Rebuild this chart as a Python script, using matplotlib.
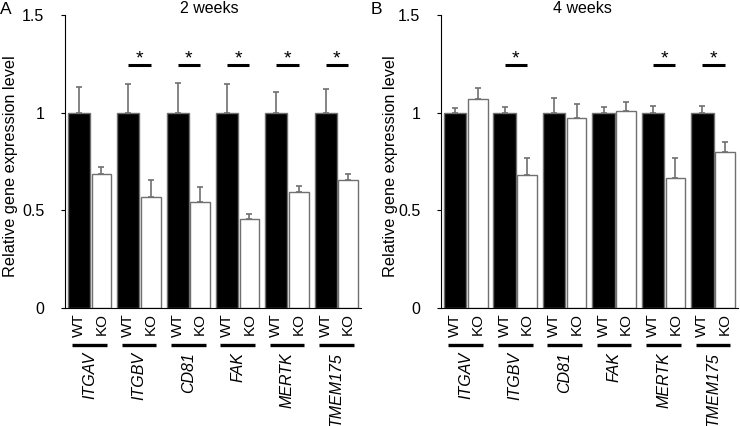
import numpy as np
import matplotlib
matplotlib.use('Agg')
import matplotlib.pyplot as plt

genes = ['ITGAV', 'ITGBV', 'CD81', 'FAK', 'MERTK', 'TMEM175']

# 2 weeks
wt_2w = [1, 1, 1, 1, 1, 1]
wt_2w_err = [0.133, 0.145, 0.15, 0.145, 0.107, 0.119]
ko_2w = [0.686, 0.567, 0.544, 0.454, 0.595, 0.657]
ko_2w_err = [0.037, 0.088, 0.077, 0.027, 0.031, 0.029]
sig_2w = [False, True, True, True, True, True]

# 4 weeks
wt_4w = [1, 1, 1, 1, 1, 1]
wt_4w_err = [0.022, 0.027, 0.076, 0.027, 0.032, 0.032]
ko_4w = [1.068, 0.681, 0.971, 1.01, 0.667, 0.797]
ko_4w_err = [0.059, 0.088, 0.073, 0.046, 0.102, 0.054]
sig_4w = [False, True, False, False, True, True]

plt.rcParams['font.family'] = ['Liberation Sans', 'DejaVu Sans']

fig = plt.figure(figsize=(7.4, 4.26), dpi=100)
axA = fig.add_axes([0.0878, 0.277, 0.4, 0.688])
axB = fig.add_axes([0.596, 0.277, 0.401, 0.688])


def draw_panel(ax, wt, wt_err, ko, ko_err, sig, title, title_x, label_x):
    x = np.arange(len(genes))
    x_wt = x + 0.285
    x_ko = x + 0.74
    edge = '#707070'
    ax.bar(x_wt, wt, width=0.45, color='black', edgecolor=edge, linewidth=1)
    ax.bar(x_ko, ko, width=0.40, color='white', edgecolor=edge, linewidth=1)
    ax.errorbar(x_wt, wt, yerr=[np.zeros(len(wt)), wt_err], fmt='none',
                ecolor=edge, elinewidth=1.2, capsize=2, capthick=1.2)
    ax.errorbar(x_ko, ko, yerr=[np.zeros(len(ko)), ko_err], fmt='none',
                ecolor=edge, elinewidth=1.2, capsize=2, capthick=1.2)

    for i in range(len(genes)):
        if sig[i]:
            ax.plot([x_wt[i], x_ko[i]], [1.244, 1.244], color='black', lw=2.2,
                    solid_capstyle='butt')
            ax.text((x_wt[i] + x_ko[i]) / 2, 1.252, '*', ha='center', va='baseline', fontsize=14)
        # labels under the axis
        ax.text(x_wt[i], -0.026, 'WT', rotation=90, ha='center', va='top', fontsize=11)
        ax.text(x_ko[i], -0.026, 'KO', rotation=90, ha='center', va='top', fontsize=11)
        ax.plot([x[i] + 0.15, x[i] + 0.85], [-0.189, -0.189], color='black', lw=2.4,
                clip_on=False, solid_capstyle='butt')
        ax.text(x[i] + 0.5, -0.225, genes[i], rotation=90, ha='center', va='top',
                fontsize=11.5, style='italic')

    ax.set_xlim(0, len(genes))
    ax.set_ylim(0, 1.5)
    ax.set_yticks([0, 0.5, 1, 1.5])
    ax.set_yticklabels(['0', '0.5', '1', '1.5'], fontsize=11.5)
    ax.set_xticks([])
    ax.spines['top'].set_visible(False)
    ax.spines['right'].set_visible(False)
    ax.tick_params(axis='y', length=3, direction='out', pad=12)
    ax.set_ylabel('Relative gene expression level', fontsize=11.7)
    ax.yaxis.set_label_coords(label_x, 0.485)
    ax.text(title_x, 1.006, title, transform=ax.transAxes, ha='center',
            va='baseline', fontsize=11.5)


draw_panel(axA, wt_2w, wt_2w_err, ko_2w, ko_2w_err, sig_2w, '2 weeks', 0.488, -0.157)
draw_panel(axB, wt_4w, wt_4w_err, ko_4w, ko_4w_err, sig_4w, '4 weeks', 0.478, -0.145)

fig.text(0.0, 0.978, 'A', fontsize=12.5, ha='left', va='center')
fig.text(0.501, 0.978, 'B', fontsize=12.5, ha='left', va='center')

fig.savefig('out.png', dpi=100)
